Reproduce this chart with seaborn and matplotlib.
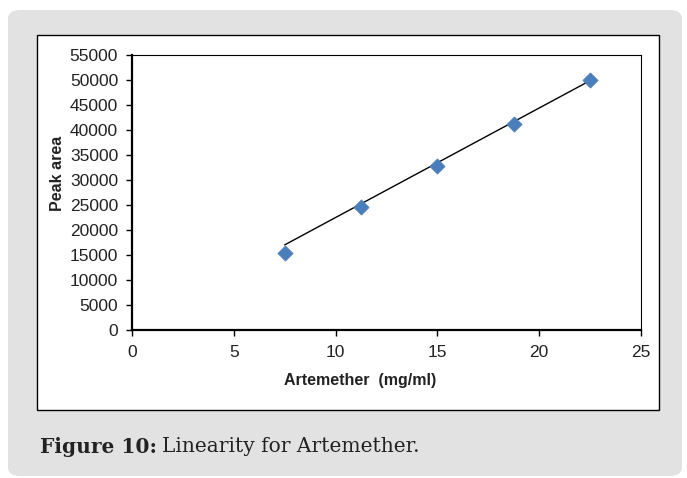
import matplotlib
matplotlib.use("Agg")
import matplotlib.pyplot as plt
from matplotlib.patches import FancyBboxPatch, Rectangle
import numpy as np
import pandas as pd
import seaborn as sns

# Calibration data: Artemether concentration (mg/ml) vs. peak area
concentration = [7.5, 11.25, 15.0, 18.75, 22.5]
peak_area = [15400, 24660, 32800, 41140, 50100]

# Linear trendline drawn across the calibration range
trend_slope = 2190.0
trend_intercept = 600.0

x_ticks = [0, 5, 10, 15, 20, 25]
y_ticks = list(range(0, 55001, 5000))

sns.set_theme(style="white")
plt.rcParams["font.family"] = ["Liberation Sans", "DejaVu Sans"]

W, H = 687, 478
fig = plt.figure(figsize=(W / 100, H / 100), dpi=100)
fig.patch.set_facecolor("white")

def fx(px):
    return px / W

def fy(py):
    return 1 - py / H

# Grey rounded panel behind the figure
panel = FancyBboxPatch((fx(8), fy(476)), fx(674), (466) / H,
                       boxstyle="round,pad=0,rounding_size=0.018",
                       transform=fig.transFigure, facecolor="#e2e2e2",
                       edgecolor="none", zorder=0)
fig.patches.append(panel)

# White chart frame
frame = Rectangle((fx(37), fy(410)), fx(622), 375 / H,
                  transform=fig.transFigure, facecolor="white",
                  edgecolor="black", linewidth=1.0, zorder=1)
fig.patches.append(frame)

ax = fig.add_axes([fx(132), fy(330), fx(509), 275 / H])
ax.set_zorder(2)

df = pd.DataFrame({"conc": concentration, "area": peak_area})
trend_x = np.array([concentration[0], concentration[-1]])
trend_df = pd.DataFrame({"conc": trend_x, "area": trend_slope * trend_x + trend_intercept})

sns.lineplot(data=trend_df, x="conc", y="area", ax=ax, color="black",
             linewidth=1.0, zorder=2)
sns.scatterplot(data=df, x="conc", y="area", ax=ax, marker="D", s=60,
                color="#4a7ebb", edgecolor="#4a7ebb", linewidth=0.5, zorder=3)

ax.set_xlim(0, 25)
ax.set_ylim(0, 55000)
ax.set_xticks(x_ticks)
ax.set_yticks(y_ticks)
ax.set_xticklabels([str(t) for t in x_ticks], fontsize=12.5, color="#222222")
ax.set_yticklabels([str(t) for t in y_ticks], fontsize=12.5, color="#222222")

for side in ["top", "right"]:
    ax.spines[side].set_visible(True)
    ax.spines[side].set_color("black")
    ax.spines[side].set_linewidth(0.8)
for side in ["left", "bottom"]:
    ax.spines[side].set_color("black")
    ax.spines[side].set_linewidth(1.6)

ax.tick_params(axis="y", direction="out", length=4, width=1, color="black",
               left=True, pad=6)
ax.tick_params(axis="x", direction="out", length=4, width=1, color="black",
               bottom=True, pad=7)

ax.set_xlabel("Artemether  (mg/ml)", fontsize=11.5, fontweight="bold",
              color="#222222")
ax.set_ylabel("Peak area", fontsize=11.5, fontweight="bold", color="#222222")
ax.xaxis.set_label_coords((360 - 132) / 509, -(380 - 330) / 275)
ax.yaxis.set_label_coords(-(132 - 57) / 509, (330 - 173) / 275)
ax.xaxis.label.set_va("center")
ax.yaxis.label.set_va("center")

# Caption below the chart frame
cap_font = ["DejaVu Serif"]
t1 = fig.text(fx(40), fy(447), "Figure 10:", fontsize=14.5, fontweight="bold",
              family=cap_font, color="#222222", va="center", ha="left")
fig.canvas.draw()
bb = t1.get_window_extent()
fig.text((bb.x1 + 5) / W, fy(447), "Linearity for Artemether.", fontsize=14.5,
         family=cap_font, color="#222222", va="center", ha="left")

fig.savefig("out.png", dpi=100, facecolor=fig.get_facecolor())
